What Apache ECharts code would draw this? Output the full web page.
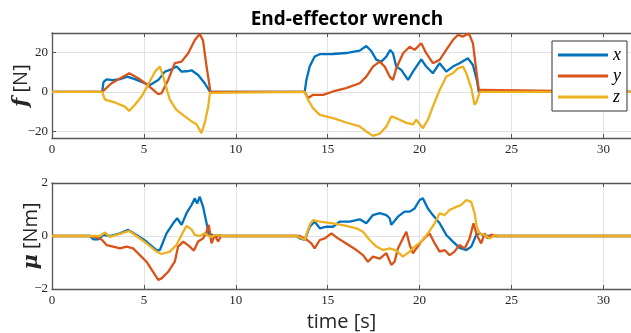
<!DOCTYPE html>
<html>
<head>
<meta charset="utf-8">
<script src="https://cdn.jsdelivr.net/npm/echarts@6/dist/echarts.min.js"></script>
<style>html,body{margin:0;padding:0;background:#fff;}#c{width:631px;height:333px;}</style>
</head>
<body>
<div id="c"></div>
<script>
// ---- data (time [s], value) ----
const fx = [[0,0],[2.73,0],[2.8,5],[2.97,6.4],[3.3,6],[3.7,6.5],[4.1,7.8],[4.5,6.5],[5.05,4.4],[5.33,3.5],[5.78,6],[6.14,10.3],[6.5,11.5],[6.78,12.9],[7.05,10.3],[7.32,10.5],[7.59,11],[7.95,8.6],[8.31,4.4],[8.6,0],
  [13.75,0],[13.84,6.1],[14.02,12.9],[14.29,18],[14.57,19.2],[15.29,19.3],[16.0,19.8],[16.74,21],[17.1,23.4],[17.37,20.8],[17.65,16.3],[17.92,15.4],[18.19,18],[18.4,21.4],[18.55,19.7],[18.73,12.9],[19.0,11.2],[19.37,6.1],[19.64,10.3],[20.09,16.6],[20.36,12.9],[20.72,9.5],[21.09,14.6],[21.45,10.3],[21.81,12.9],[22.17,14.6],[22.63,17.1],[22.9,13.7],[23.11,6.1],[23.22,0],[31.5,0]];
const fy = [[0,0],[2.73,0],[3.24,4.4],[3.79,7.3],[4.2,9.5],[4.69,7],[5.14,3.9],[5.78,-1.2],[5.96,-0.7],[6.32,6.1],[6.68,14.6],[7.05,15.4],[7.41,19.7],[7.77,26.4],[8.04,29.5],[8.22,26],[8.41,12.9],[8.59,1.9],[8.62,0],
  [13.75,0],[13.93,-3.2],[14.2,-1.5],[14.75,-1.5],[15.29,0.2],[16.0,1.9],[16.74,4.4],[17.1,7.8],[17.46,12.9],[17.83,15.4],[18.1,12.9],[18.37,7.8],[18.55,6.1],[18.73,12],[19.1,19.7],[19.46,23],[19.73,21.4],[20.09,24.8],[20.36,19.7],[20.72,14.6],[21.09,16.3],[21.45,21.4],[21.81,26.4],[22.08,29],[22.36,28.2],[22.68,29.8],[22.9,24.8],[23.08,11.2],[23.22,1],[23.35,1],[23.4,0],[31.5,0]];
const fz = [[0,0],[2.73,0],[2.88,-4],[3.42,-5.4],[3.97,-7.5],[4.2,-9.7],[4.51,-6.6],[4.87,-2.4],[5.23,3.6],[5.6,10.3],[5.87,12.9],[6.05,7.8],[6.41,-4],[6.77,-9.2],[7.23,-12.5],[7.59,-15],[7.86,-16.5],[8.13,-21],[8.31,-15.8],[8.5,-7.5],[8.59,-0.5],[8.62,0],
  [13.75,0],[13.93,-4],[14.2,-8.3],[14.57,-11.7],[15.29,-13.4],[16.0,-15.6],[16.74,-17.6],[17.1,-20.2],[17.46,-22.4],[17.83,-21.3],[18.19,-17.6],[18.46,-12.5],[18.73,-13.4],[18.91,-14.2],[19.28,-15.8],[19.64,-16.6],[19.82,-14.2],[20.18,-18.5],[20.45,-14.2],[20.72,-7.5],[21.09,1],[21.45,7.8],[21.81,9.5],[22.08,12],[22.36,12.9],[22.54,9.5],[22.81,1.9],[22.99,-6.6],[23.11,-4.9],[23.22,-1.5],[23.28,0],[31.5,0]];
const mx = [[0,0],[2.07,0],[2.25,-0.13],[2.52,-0.13],[2.79,0.04],[3.15,0],[3.7,0.1],[4.15,0.23],[4.6,0.04],[5.14,-0.21],[5.69,-0.53],[5.87,-0.53],[6.23,0.1],[6.59,0.48],[6.81,0.67],[7.05,0.42],[7.32,0.86],[7.59,1.17],[7.77,1.42],[7.9,1.23],[8.04,1.48],[8.22,1.1],[8.41,0.48],[8.53,0.04],[8.7,0.05],[8.9,-0.05],[9.1,0.03],[9.3,0],
  [13.3,0],[13.48,-0.09],[13.75,-0.15],[14.02,0.35],[14.29,0.54],[14.57,0.29],[14.93,0.35],[15.29,0.35],[15.65,0.54],[16.2,0.54],[16.74,0.63],[17.1,0.48],[17.46,0.79],[17.83,0.86],[18.19,0.79],[18.37,0.67],[18.46,0.42],[18.55,0.42],[18.82,0.73],[19.18,0.92],[19.46,0.92],[19.73,1.04],[20.0,1.36],[20.18,1.42],[20.45,1.04],[20.72,0.79],[21.09,0.48],[21.45,0.04],[21.81,-0.21],[22.17,-0.45],[22.54,-0.53],[22.81,-0.4],[23.08,0.04],[23.26,0.1],[23.53,0],[31.5,0]];
const my = [[0,0],[2.07,0],[2.43,-0.05],[2.7,-0.13],[2.97,-0.34],[3.33,-0.4],[3.7,-0.47],[4.06,-0.4],[4.42,-0.47],[4.78,-0.72],[5.14,-0.97],[5.5,-1.35],[5.78,-1.66],[5.96,-1.6],[6.32,-1.35],[6.68,-0.97],[6.86,-0.4],[7.14,-0.21],[7.5,-0.4],[7.72,-0.55],[7.95,-0.21],[8.22,-0.09],[8.41,0.16],[8.53,0.42],[8.68,-0.28],[8.86,0.04],[9.04,-0.21],[9.2,0],
  [13.48,0],[13.84,-0.13],[14.11,-0.28],[14.29,-0.47],[14.57,-0.15],[14.84,-0.09],[15.2,0.1],[15.56,-0.09],[16.01,-0.28],[16.56,-0.53],[16.92,-0.72],[17.19,-0.97],[17.46,-0.78],[17.83,-0.85],[18.19,-0.65],[18.46,-1.09],[18.64,-0.97],[18.82,-0.47],[19.09,-0.09],[19.28,0.16],[19.46,-0.34],[19.64,-0.65],[19.82,-0.47],[20.09,-0.21],[20.36,-0.02],[20.54,0.1],[20.82,-0.28],[21.09,-0.59],[21.36,-0.53],[21.63,-0.72],[21.9,-0.59],[22.17,-0.34],[22.45,-0.47],[22.72,-0.09],[22.93,0.48],[23.11,0.04],[23.35,-0.28],[23.53,0.1],[23.7,-0.09],[23.9,0.05],[24.17,0],[31.5,0]];
const mz = [[0,0],[2.61,0],[2.88,0.13],[3.15,-0.03],[3.7,0.08],[4.2,0.19],[4.6,0],[5.14,-0.28],[5.69,-0.59],[5.96,-0.68],[6.41,-0.59],[6.77,-0.34],[7.14,0.16],[7.32,0.38],[7.59,0.25],[7.77,0.04],[8.04,0],[8.31,0.1],[8.59,-0.03],[8.95,0.04],[9.3,0],
  [13.3,0],[13.48,-0.05],[13.75,-0.15],[14.02,0.42],[14.2,0.6],[14.57,0.54],[15.29,0.48],[16.01,0.38],[16.56,0.29],[16.92,0.16],[17.28,-0.15],[17.65,-0.4],[18.01,-0.53],[18.37,-0.47],[18.73,-0.55],[19.09,-0.78],[19.46,-0.59],[19.73,-0.4],[20.09,-0.21],[20.45,0.1],[20.82,0.48],[21.09,0.86],[21.36,0.79],[21.63,0.98],[21.99,1.1],[22.26,1.17],[22.54,1.36],[22.81,1.29],[22.99,0.86],[23.11,0.35],[23.26,0.1],[23.53,0.04],[23.8,-0.09],[24.1,0.03],[24.3,0],[31.5,0]];
const seriesNames = ['x','y','z'];
const xTicks = [0,5,10,15,20,25,30];
const fTicks = [-20,0,20];
const mTicks = [-2,0,2];

const colors = ['#0072BD','#D95319','#EDB120'];
const axisCol = '#555555';
const gridCol = '#e2e2e2';
const tickFont = {fontFamily:'Liberation Serif', fontSize:13, color:'#262626'};
const fmt = v => String(v).replace('-', '\u2212');

function xAx(g, pos, withLabels, name) {
  return {
    type:'value', gridIndex:g, position:pos, min:0, max:31.5,
    axisLine:{show:true, onZero:false, lineStyle:{color:axisCol, width:1.3}},
    axisTick:{show:true, inside:true, length:4, customValues:xTicks, lineStyle:{color:axisCol}},
    axisLabel:{show:withLabels, customValues:xTicks, formatter:fmt, margin:5, ...tickFont},
    splitLine:{show:withLabels, lineStyle:{color:gridCol, width:1}},
    name:name||'', nameLocation:'middle', nameGap:23, nameMoveOverlap:false,
    nameTextStyle:{fontFamily:'Open Sans', fontSize:20, color:'#262626'}
  };
}
function yAx(g, min, max, ticks, nameRich, gap) {
  return {
    type:'value', gridIndex:g, min:min, max:max,
    axisLine:{show:true, onZero:false, lineStyle:{color:axisCol, width:1.3}},
    axisTick:{show:true, inside:true, length:4, customValues:ticks, lineStyle:{color:axisCol}},
    axisLabel:{customValues:ticks, formatter:fmt, margin:4, ...tickFont},
    splitLine:{show:true, lineStyle:{color:gridCol, width:1}},
    name:nameRich, nameLocation:'middle', nameRotate:90, nameGap:gap, nameMoveOverlap:false,
    nameTextStyle:{fontFamily:'Open Sans', fontSize:20, color:'#262626',
      rich:{m:{fontFamily:'DejaVu Serif', fontStyle:'italic', fontWeight:'bold', fontSize:21, color:'#262626'},
            t:{fontFamily:'Open Sans', fontSize:20, color:'#262626'}}}
  };
}
function line(name, data, xi, yi, ci) {
  return {name:name, type:'line', data:data, xAxisIndex:xi, yAxisIndex:yi, symbol:'none',
    lineStyle:{color:colors[ci], width:2.3}, itemStyle:{color:colors[ci]}, animation:false, clip:true};
}

const chart = echarts.init(document.getElementById('c'), null, {renderer:'canvas'});
chart.setOption({
  animation:false,
  backgroundColor:'#fff',
  title:{text:'End-effector wrench', left:342, textAlign:'center', top:5,
    textStyle:{fontFamily:'Open Sans', fontWeight:'bold', fontSize:19, color:'#000'}},
  grid:[{left:52, top:33, right:0, height:105, show:false, outerBoundsMode:'none', containLabel:false},
        {left:52, top:183, right:0, height:106, show:false, outerBoundsMode:'none', containLabel:false}],
  xAxis:[xAx(0,'bottom',true), xAx(0,'top',false), xAx(1,'bottom',true,'time [s]'), xAx(1,'top',false)],
  yAxis:[yAx(0,-23.5,30,fTicks,'{m|f} {t|[N]}',20), yAx(1,-2,2,mTicks,'{m|\u03bc} {t|[Nm]}',10)],
  legend:{show:true, data:seriesNames, orient:'vertical', left:552, top:41, padding:[5,6,5,6],
    icon:'rect', itemWidth:50, itemHeight:3, itemGap:3, backgroundColor:'#fff', borderColor:'#333', borderWidth:1,
    textStyle:{fontFamily:'Liberation Serif', fontStyle:'italic', fontSize:18, lineHeight:14, color:'#000'}},
  series:[
    line('x', fx, 0, 0, 0), line('y', fy, 0, 0, 1), line('z', fz, 0, 0, 2),
    line('x', mx, 2, 1, 0), line('y', my, 2, 1, 1), line('z', mz, 2, 1, 2)
  ]
});
</script>
</body>
</html>
